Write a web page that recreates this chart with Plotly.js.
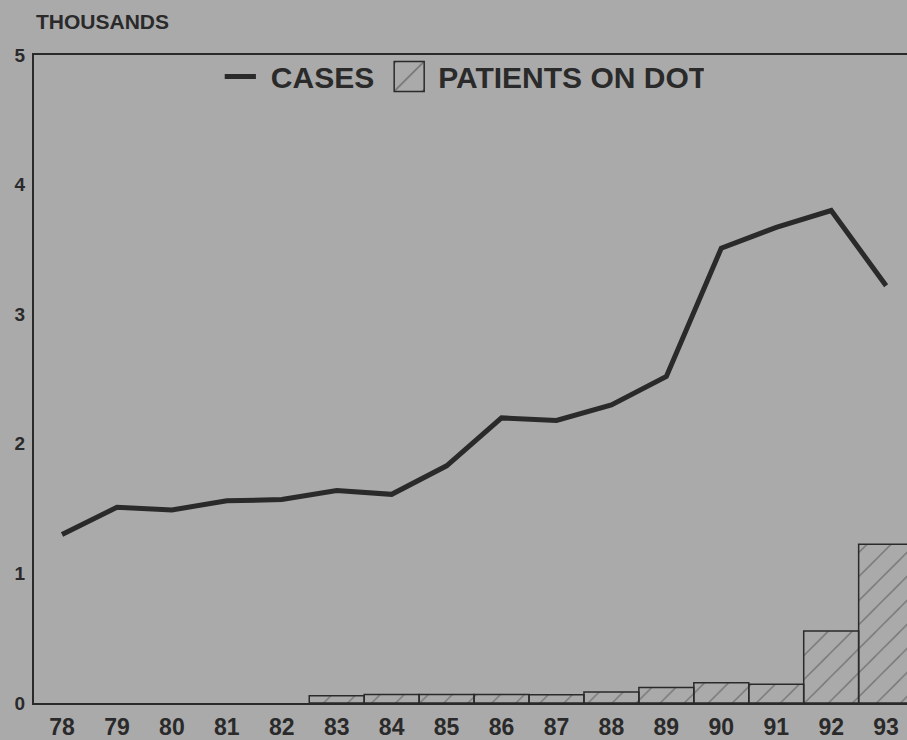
<!DOCTYPE html>
<html>
<head>
<meta charset="utf-8">
<script src="https://cdn.plot.ly/plotly-3.0.1.min.js"></script>
<style>
  html, body { margin: 0; padding: 0; background: #aaaaaa; }
  #chart { width: 907px; height: 740px; }
</style>
</head>
<body>
<div id="chart"></div>
<script>
// Years (19xx)
const years = ['78','79','80','81','82','83','84','85','86','87','88','89','90','91','92','93'];
// Tuberculosis cases, thousands
const cases = [1.30, 1.51, 1.49, 1.56, 1.57, 1.64, 1.61, 1.83, 2.20, 2.18, 2.30, 2.52, 3.51, 3.67, 3.80, 3.22];
// Patients on directly observed therapy, thousands
const patientsOnDot = [null, null, null, null, null, 0.055, 0.066, 0.066, 0.065, 0.064, 0.084, 0.12, 0.157, 0.144, 0.556, 1.225];
const yTicks = [0, 1, 2, 3, 4, 5];

const ink = '#2a2a2a';
const bg = '#aaaaaa';
const fontFam = '"Liberation Sans", Arial, Helvetica, sans-serif';

const traces = [
  {
    type: 'scatter',
    mode: 'lines',
    name: 'CASES',
    x: years,
    y: cases,
    line: { color: ink, width: 5 },
    hoverinfo: 'skip'
  },
  {
    type: 'bar',
    name: 'PATIENTS ON DOT',
    x: years,
    y: patientsOnDot,
    width: 1,
    marker: {
      color: 'rgba(0,0,0,0)',
      line: { color: ink, width: 1.5 },
      pattern: { shape: '/', size: 17, solidity: 0.07, fgcolor: ink, bgcolor: 'rgba(0,0,0,0)', fillmode: 'overlay' }
    },
    hoverinfo: 'skip'
  }
];

const layout = {
  width: 907,
  height: 740,
  paper_bgcolor: bg,
  plot_bgcolor: bg,
  margin: { l: 34, r: 0, t: 55, b: 37, pad: 0 },
  showlegend: true,
  legend: {
    orientation: 'h',
    x: 0.214, xanchor: 'left',
    y: 0.967, yanchor: 'middle',
    bgcolor: 'rgba(0,0,0,0)',
    font: { family: fontFam, size: 30, color: ink, weight: 'bold' },
    itemwidth: 40,
    traceorder: 'normal'
  },
  xaxis: {
    type: 'category',
    range: [-0.51, 15.38],
    showline: true,
    linecolor: ink,
    linewidth: 2,
    mirror: true,
    showgrid: false,
    zeroline: false,
    ticks: '',
    ticklabelstandoff: 2,
    tickfont: { family: fontFam, size: 23, color: ink, weight: 'bold' },
    fixedrange: true
  },
  yaxis: {
    range: [0, 5],
    tickvals: yTicks,
    ticktext: yTicks.map(String),
    showline: true,
    linecolor: ink,
    linewidth: 2,
    showgrid: false,
    zeroline: false,
    ticks: '',
    ticklabelstandoff: 3,
    tickfont: { family: fontFam, size: 19, color: ink, weight: 'bold' },
    fixedrange: true
  },
  bargap: 0,
  annotations: [
    {
      text: 'THOUSANDS',
      xref: 'paper', yref: 'paper',
      x: 0, xanchor: 'left',
      y: 1.051, yanchor: 'middle',
      showarrow: false,
      font: { family: fontFam, size: 21, color: ink, weight: 'bold' }
    }
  ]
};

let adjusted = false;
function adjustLegendKeys() {
  if (adjusted) return;
  adjusted = true;
  // Enlarge the hatched legend key and shorten the line key, as in the reference
  const groups = document.querySelectorAll('#chart .legend .traces');
  groups.forEach(function (g, i) {
    g.querySelectorAll('.legendpoints path').forEach(function (p) {
      p.setAttribute('transform', 'translate(21,0) scale(2.5)');
      p.style.strokeWidth = '0.6px';
    });
    g.querySelectorAll('.legendlines path').forEach(function (p) {
      p.setAttribute('transform', 'scale(0.78,1)');
    });
    if (i === 1) {
      const t = g.getAttribute('transform') || '';
      const m = t.match(/translate\(\s*([-\d.e]+)[ ,]+([-\d.e]+)\s*\)/);
      if (m) g.setAttribute('transform', 'translate(' + (parseFloat(m[1]) + 9) + ',' + m[2] + ')');
    }
  });
}

Plotly.newPlot('chart', traces, layout, { displayModeBar: false, staticPlot: true }).then(function () {
  adjustLegendKeys();
});
</script>
</body>
</html>
